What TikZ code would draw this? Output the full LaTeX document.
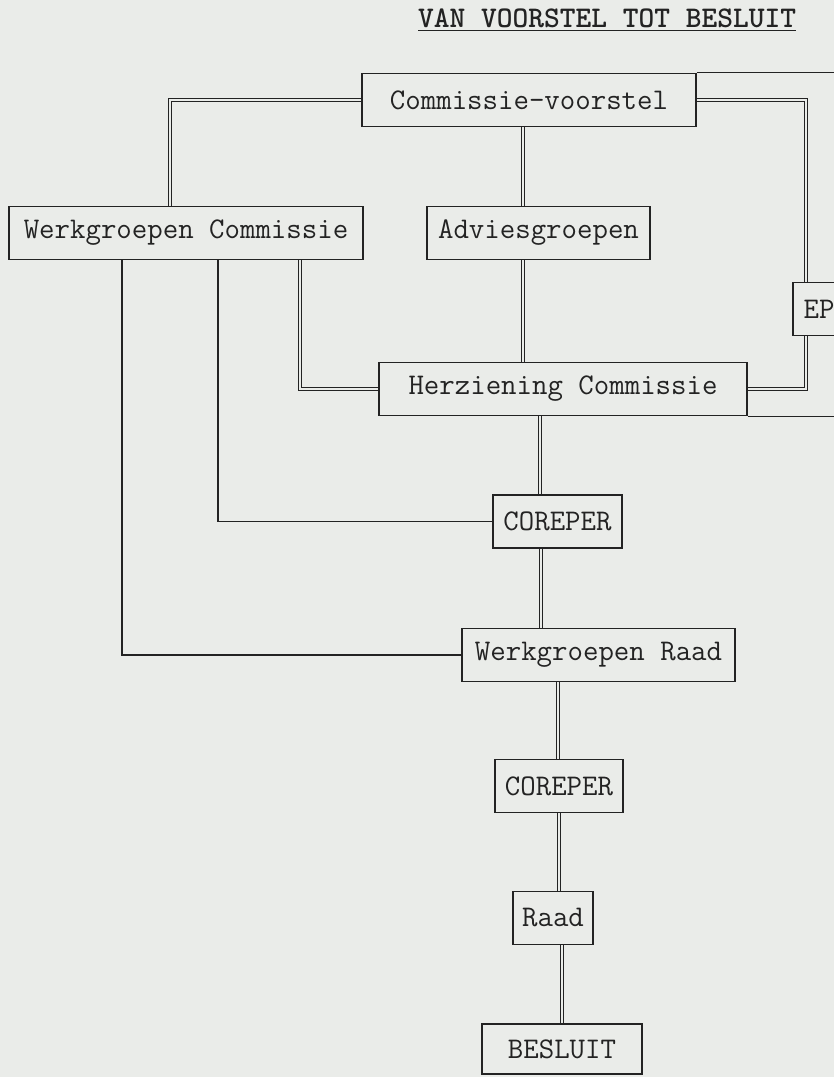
\documentclass[tikz,border=0pt]{standalone}

\definecolor{paper}{RGB}{234,236,233}
\definecolor{ink}{RGB}{35,35,35}

\begin{document}
\begin{tikzpicture}[
    x=0.5pt, y=-0.5pt,
    block/.style={rectangle, draw=ink, line width=0.9pt, minimum height=26.5pt, inner sep=0pt, text=ink, font=\ttfamily\fontsize{15}{18}\selectfont},
    link/.style={draw=ink, line width=0.9pt},
    dbl/.style={draw=ink, line width=0.5pt, double=paper, double distance=1.4pt},
    rim/.style={draw=ink, line width=0.6pt}
  ]
  \useasboundingbox[fill=paper] (0,0) rectangle (834,1077);

  \node[anchor=base, text=ink, font=\ttfamily\bfseries\fontsize{15}{18}\selectfont] (title) at (607,27) {\underline{VAN VOORSTEL TOT BESLUIT}};

  \node[block, minimum width=167pt] (voorstel) at (529,100) {Commissie-voorstel};
  \node[block, minimum width=177pt] (wgcom) at (186,233) {Werkgroepen Commissie};
  \node[block, minimum width=111.5pt] (advies) at (538.5,233) {Adviesgroepen};
  \node[block, minimum width=26pt] (ep) at (819,309) {EP};
  \node[block, minimum width=184pt] (herz) at (563,389) {Herziening Commissie};
  \node[block, minimum width=64.5pt] (coreper1) at (557.5,521.5) {COREPER};
  \node[block, minimum width=136.5pt] (wgraad) at (598.5,655) {Werkgroepen Raad};
  \node[block, minimum width=64pt] (coreper2) at (559,786) {COREPER};
  \node[block, minimum width=40pt] (raad) at (553,918) {Raad};
  \node[block, minimum width=80pt, minimum height=25pt] (besluit) at (562,1049) {BESLUIT};

  % lines running off the page
  \draw[rim] (voorstel.north east) -- ++(140,0);
  \draw[rim] (herz.south east) -- ++(90,0);

  % commissie side
  \draw[dbl] (voorstel.west) -| ([xshift=-8pt]wgcom.north);
  \draw[dbl] (voorstel.east) -| ([xshift=-6.5pt]ep.north);
  \draw[dbl] ([xshift=-6.5pt]ep.south) |- (herz.east);
  \draw[dbl] ([xshift=-3pt]voorstel.south) -- ([xshift=-3pt]voorstel.south |- advies.north);
  \draw[dbl] ([xshift=-3pt]voorstel.south |- advies.south) -- ([xshift=-3pt]voorstel.south |- herz.north);
  \draw[dbl] ([xshift=57pt]wgcom.south) |- (herz.west);
  \draw[link] ([xshift=16pt]wgcom.south) |- (coreper1.west);
  \draw[link] ([xshift=-32pt]wgcom.south) |- (wgraad.west);

  % raad side
  \draw[dbl] ([xshift=-11.5pt]herz.south) -- ([xshift=-11.5pt]herz.south |- coreper1.north);
  \draw[dbl] ([xshift=-8.25pt]coreper1.south) -- ([xshift=-8.25pt]coreper1.south |- wgraad.north);
  \draw[dbl] ([xshift=-20.25pt]wgraad.south) -- ([xshift=-20.25pt]wgraad.south |- coreper2.north);
  \draw[dbl] (coreper2.south) -- (coreper2.south |- raad.north);
  \draw[dbl] (besluit.north |- raad.south) -- (besluit.north);
\end{tikzpicture}
\end{document}
